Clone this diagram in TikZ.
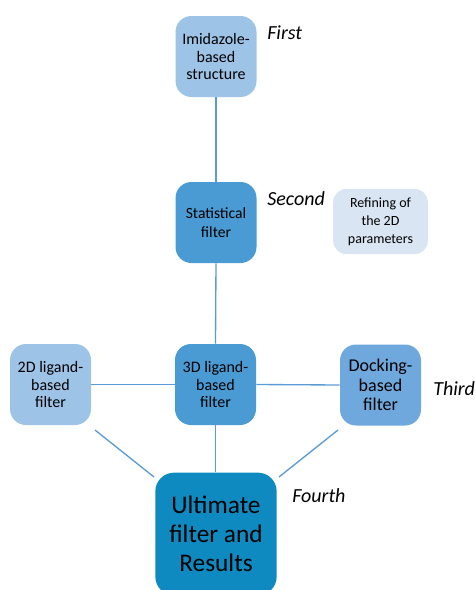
\documentclass[tikz,border=0pt]{standalone}
\usepackage{fontspec}
\setmainfont{Carlito}
\definecolor{lightb}{HTML}{9DC3E6}
\definecolor{midb}{HTML}{4A9BD3}
\definecolor{dockb}{HTML}{6FA8DC}
\definecolor{ultb}{HTML}{0E8AC0}
\definecolor{refb}{HTML}{D9E5F2}
\definecolor{lineb}{HTML}{5B9BD5}
\tikzset{
  box/.style={rounded corners=12pt, draw=none, align=center, inner sep=0pt,
    minimum width=60.75pt, minimum height=60.75pt, font=\fontsize{12}{13.3}\selectfont},
  lab/.style={font=\fontsize{15}{18}\selectfont\itshape, anchor=west, inner sep=0pt},
  conn/.style={draw=lineb, line width=1pt}
}
\begin{document}
\begin{tikzpicture}[x=0.75pt,y=-0.75pt]
\useasboundingbox (0,0) rectangle (475,590);
\node[box, fill=lightb] (imid) at (216,56.5) {Imidazole-\\based\\structure};
\node[box, fill=midb, font=\fontsize{11.7}{14}\selectfont] (stat) at (216,222.5) {Statistical\\filter};
\node[box, fill=refb, minimum width=71pt, minimum height=49pt, rounded corners=10pt, font=\fontsize{10.5}{13.5}\selectfont] (ref) at (380.5,221.5) {Refining of\\the 2D\\parameters};
\node[box, fill=lightb] (lig2) at (50.5,384.5) {2D ligand-\\based\\filter};
\node[box, fill=midb] (lig3) at (215.5,384.5) {3D ligand-\\based\\filter};
\node[box, fill=dockb, font=\fontsize{13.5}{14.5}\selectfont] (dock) at (380.5,385) {Docking-\\based\\filter};
\node[box, fill=ultb, minimum width=91pt, minimum height=92pt, rounded corners=14pt, font=\fontsize{19}{21.75}\selectfont] (ult) at (216,534) {Ultimate\\filter and\\Results};
\node[lab] (l1) at (267,33) {First};
\node[lab] (l2) at (267,199) {Second};
\node[lab] (l3) at (433,389) {Third};
\node[lab] (l4) at (292,496) {Fourth};
\draw[conn] (imid.south) -- (stat.north);
\draw[conn] (stat.south) -- (lig3.north);
\draw[conn] (lig2.east) -- (lig3.west);
\draw[conn] (lig3.east) -- (dock.west);
\draw[conn] (lig3.south) -- (lig3.south |- ult.north);
\coordinate (a1) at (95,430);
\coordinate (a2) at (154,477);
\coordinate (b1) at (338,430);
\coordinate (b2) at (279,477);
\draw[conn] (a1) -- (a2);
\draw[conn] (b1) -- (b2);
\end{tikzpicture}
\end{document}
